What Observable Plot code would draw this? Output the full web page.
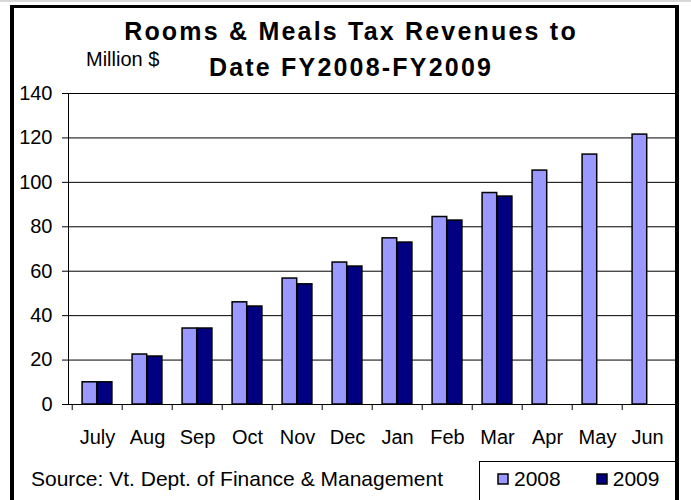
<!DOCTYPE html>
<html><head><meta charset="utf-8">
<script src="https://cdn.jsdelivr.net/npm/d3@7"></script>
<script src="https://cdn.jsdelivr.net/npm/@observablehq/plot@0.6"></script>
<style>
body{margin:0;background:#fff}
#c{position:relative;width:691px;height:500px;overflow:hidden;background:#fff;font-family:"Liberation Sans",Arial,sans-serif;color:#000}
#c svg.main{position:absolute;left:0;top:0}
.t{position:absolute;white-space:nowrap;line-height:1;color:#000}
.title{left:0;width:702px;text-align:center;font-weight:bold;font-size:25px;line-height:25px;letter-spacing:2.2px}
.border{position:absolute;left:10px;top:5px;width:669px;height:600px;box-sizing:border-box;border-left:4px solid #000;border-right:4px solid #000;border-top:3px solid #000;pointer-events:none}
.shade{position:absolute;left:0;top:0;width:691px;height:2px;background:#d8d8d8}
.legbox{position:absolute;left:479px;top:461px;width:198px;height:60px;border:1px solid #000;box-sizing:border-box;background:#fff;overflow:hidden}
.legbox .leg-swatches{font-family:"Liberation Sans",Arial,sans-serif;font-size:21px;margin:0;padding-left:18px;color:#000;flex-wrap:nowrap}
.legbox .leg-swatches-wrap{min-height:33px}
.legbox .leg-swatch{margin-right:36px}
.legbox .leg-swatch>svg{margin-right:6px;overflow:visible}
.legbox .leg-swatch rect{stroke:#000;stroke-width:1.5px}
</style></head><body><div id="c"></div>
<script>
const months = ["July","Aug","Sep","Oct","Nov","Dec","Jan","Feb","Mar","Apr","May","Jun"];
const years = ["2008","2009"];
const rev2008 = [10, 22.5, 34.2, 46, 56.7, 63.9, 74.8, 84.4, 95.2, 105.3, 112.5, 121.5];
const rev2009 = [10, 21.6, 34.2, 44.1, 54.1, 62.1, 72.9, 82.8, 93.6, null, null, null];
const yTicks = [0, 20, 40, 60, 80, 100, 120, 140];
const colors = ["#9999FF", "#000080"];

const rows = months.flatMap((m, i) => [
  {month: m, year: years[0], value: rev2008[i]},
  {month: m, year: years[1], value: rev2009[i]}
]).filter(d => d.value != null);

const W = 691, H = 500, mL = 68, mR = 16, mT = 93, mB = 96;
const bw = (W - mL - mR) / months.length;
const half = bw / 2;
const pad = half - 15.2;

const plot = Plot.plot({
  width: W, height: H,
  marginLeft: mL, marginRight: mR, marginTop: mT, marginBottom: mB,
  style: {fontFamily: "'Liberation Sans', Arial, sans-serif", fontSize: "20px", color: "#000", background: "transparent"},
  x: {domain: months, padding: 0, tickSize: 0, tickPadding: 25, label: null},
  y: {domain: [0, 140], ticks: yTicks, tickSize: 6, tickPadding: 10, label: null},
  color: {domain: years, range: colors},
  marks: [
    Plot.ruleY(yTicks, {y: d => d, stroke: "#000", strokeWidth: 1}),
    Plot.barY(rows.filter(d => d.year === years[0]), {x: "month", y: "value", fill: "year", stroke: "#000", strokeWidth: 1.5, insetLeft: pad, insetRight: half}),
    Plot.barY(rows.filter(d => d.year === years[1]), {x: "month", y: "value", fill: "year", stroke: "#000", strokeWidth: 1.5, insetLeft: half, insetRight: pad}),
    Plot.ruleX(months, {x: d => d, dx: -half, y1: 0, y2: 0, insetBottom: -6, stroke: "#000"}),
    Plot.frame({stroke: "#000"})
  ]
});
plot.classList.add("main");

const c = document.getElementById("c");
c.appendChild(plot);

function addText(cls, text, css) {
  const d = document.createElement("div");
  d.className = "t " + cls;
  d.textContent = text;
  Object.assign(d.style, css);
  c.appendChild(d);
  return d;
}
addText("title", "Rooms & Meals Tax Revenues to", {top: "18.8px"});
addText("title", "Date FY2008-FY2009", {top: "54.8px"});
addText("", "Million $", {left: "86px", top: "48.8px", fontSize: "20px", lineHeight: "20px"});
addText("", "Source: Vt. Dept. of Finance & Management", {left: "31px", top: "468.2px", fontSize: "21px", lineHeight: "21px"});

const lb = document.createElement("div");
lb.className = "legbox";
lb.appendChild(plot.legend("color", {legend: "swatches", swatchSize: 10, className: "leg"}));
c.appendChild(lb);

const sh = document.createElement("div"); sh.className = "shade"; c.appendChild(sh);
const b = document.createElement("div"); b.className = "border"; c.appendChild(b);
</script></body></html>
